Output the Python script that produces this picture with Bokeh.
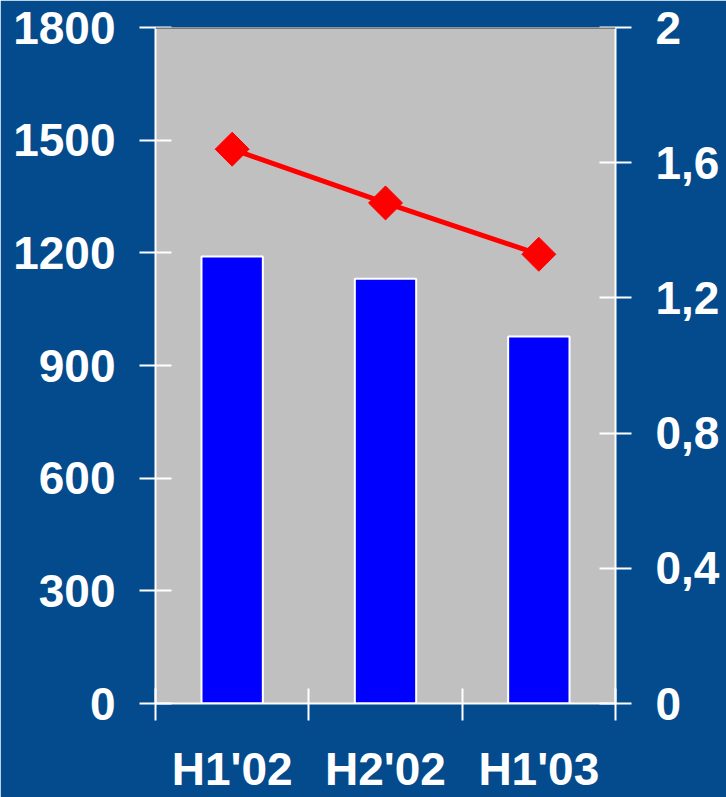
from bokeh.plotting import figure
from bokeh.models import (Range1d, LinearAxis, FixedTicker, CustomJSTickFormatter,
                          ColumnDataSource, Span)
from bokeh.embed import file_html
from bokeh.resources import INLINE
import math

categories = ["H1'02", "H2'02", "H1'03"]
bar_values = [1190, 1131, 977]
line_values = [1.64, 1.481, 1.329]
left_ticks = [0, 300, 600, 900, 1200, 1500, 1800]
right_ticks = [0, 0.4, 0.8, 1.2, 1.6, 2]

BG = "#034B8C"
PLOT_BG = "#C0C0C0"
FONT = "Liberation Sans"

x_centers = [i + 0.5 for i in range(len(categories))]
boundaries = list(range(len(categories) + 1))
src = ColumnDataSource(dict(x=x_centers, bars=bar_values, line=line_values))

p = figure(width=726, height=797, output_backend="svg", toolbar_location=None,
           x_range=Range1d(0, len(categories)), y_range=Range1d(left_ticks[0], left_ticks[-1]),
           min_border_left=155, min_border_right=111, min_border_top=27, min_border_bottom=94,
           background_fill_color=PLOT_BG, border_fill_color=BG, outline_line_color=None)
p.extra_y_ranges = {"right": Range1d(right_ticks[0], right_ticks[-1])}
p.grid.visible = False

p.add_layout(Span(location=left_ticks[-1], dimension="width", line_color="#7A7A7A", line_width=3))

p.vbar(x="x", top="bars", width=0.4, source=src, fill_color="#0000FF",
       line_color="white", line_width=2)
p.line(x="x", y="line", source=src, y_range_name="right", line_color="#FF0000", line_width=5)
p.scatter(x="x", y="line", source=src, y_range_name="right", marker="square", size=24,
          angle=math.pi / 4, fill_color="#FF0000", line_color="#FF0000")

def style(ax, tin, tout, standoff):
    ax.axis_line_color = "white"
    ax.axis_line_width = 2
    ax.major_tick_line_color = "white"
    ax.major_tick_line_width = 2
    ax.major_tick_in = tin
    ax.major_tick_out = tout
    ax.minor_tick_line_color = None
    ax.major_label_text_color = "white"
    ax.major_label_text_font = FONT
    ax.major_label_text_font_style = "bold"
    ax.major_label_text_font_size = "46px"
    ax.major_label_standoff = standoff

# x axis
xa = p.xaxis[0]
xa.ticker = FixedTicker(ticks=x_centers, minor_ticks=boundaries)
xa.formatter = CustomJSTickFormatter(args=dict(labels=categories),
                                     code="const i = Math.floor(tick); return labels[i] ?? '';")
style(xa, 0, 0, 22)
xa.major_tick_line_color = None
xa.minor_tick_line_color = "white"
xa.minor_tick_line_width = 2
xa.minor_tick_in = 15
xa.minor_tick_out = 17

# left axis
ya = p.yaxis[0]
ya.ticker = FixedTicker(ticks=left_ticks)
style(ya, 16, 16, 24)

# right axis
ra = LinearAxis(y_range_name="right", ticker=FixedTicker(ticks=right_ticks),
                formatter=CustomJSTickFormatter(
                    code="const s = (Math.round(tick*10)/10).toString(); return s.replace('.', ',');"))
style(ra, 16, 16, 24)
p.add_layout(ra, "right")

open("out.html", "w").write(file_html(p, INLINE))
